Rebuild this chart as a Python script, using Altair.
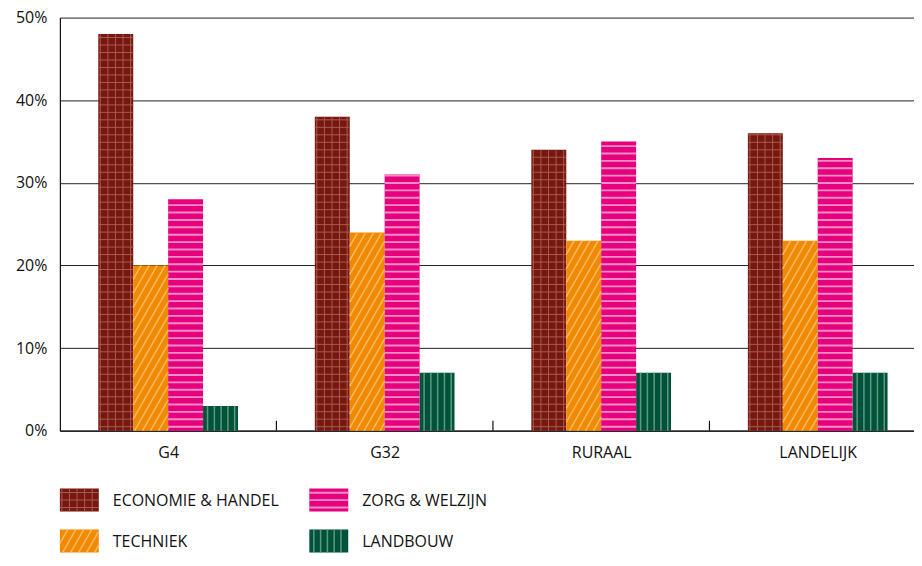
import altair as alt
import pandas as pd
import numpy as np

# ---------------- data ----------------
groups = ["G4", "G32", "RURAAL", "LANDELIJK"]
series = ["ECONOMIE & HANDEL", "TECHNIEK", "ZORG & WELZIJN", "LANDBOUW"]
economie = [48, 38, 34, 36]
techniek = [20, 24, 23, 23]
zorg = [28, 31, 35, 33]
landbouw = [3, 7, 7, 7]
y_ticks = [0, 10, 20, 30, 40, 50]

# ---------------- style ----------------
base_colors = ["#771810", "#f18a00", "#e6007e", "#00533a"]
line_colors = ["#a95a50", "#f8ba66", "#f290c4", "#5c9a80"]
patterns = ["grid", "diag", "hstripe", "vstripe"]
FONT = "Open Sans"
W, H = 856, 414
X_DOM = [-0.5, -0.5 + W / 217.0]
Y_DOM = [0, 50]
BAR_W = 35 / 217.0
SX = W / (X_DOM[1] - X_DOM[0])   # px per x unit
SY = H / (Y_DOM[1] - Y_DOM[0])   # px per y unit


def pattern_segments(kind, x0, x1, y0, y1, sx, sy):
    segs = []
    wpx = (x1 - x0) * sx
    hpx = (y1 - y0) * sy
    if kind == "grid":
        for px in np.arange(2.0, wpx - 0.5, 7.6):
            segs.append((x0 + px / sx, y0, x0 + px / sx, y1, 1.0))
        for py in np.arange(4.0, hpx - 0.5, 7.5):
            segs.append((x0, y0 + py / sy, x1, y0 + py / sy, 1.0))
    elif kind == "hstripe":
        for py in np.arange(4.0, hpx - 1.0, 7.4):
            segs.append((x0, y0 + py / sy, x1, y0 + py / sy, 1.9))
    elif kind == "vstripe":
        for px in np.arange(4.5, wpx - 1.0, 6.8):
            segs.append((x0 + px / sx, y0, x0 + px / sx, y1, 1.5))
    elif kind == "diag":
        slope = 1.75
        for c in np.arange(-hpx / slope, wpx, 8.0):
            xa = max(0.0, c)
            xb = min(wpx, c + hpx / slope)
            if xb <= xa:
                continue
            ya = slope * (xa - c)
            yb = slope * (xb - c)
            segs.append((x0 + xa / sx, y0 + ya / sy, x0 + xb / sx, y0 + yb / sy, 1.5))
    return segs


all_vals = [economie, techniek, zorg, landbouw]
bar_rows, seg_rows = [], []
for si, (s, vals) in enumerate(zip(series, all_vals)):
    for gi, g in enumerate(groups):
        x0 = gi - 2 * BAR_W + si * BAR_W
        x1 = x0 + BAR_W
        bar_rows.append(dict(group=g, series=s, value=vals[gi], x0=x0, x1=x1,
                             zero=0, color=base_colors[si]))
        for (xa, ya, xb, yb, sw) in pattern_segments(patterns[si], x0, x1, 0, vals[gi], SX, SY):
            seg_rows.append(dict(xa=xa, ya=ya, xb=xb, yb=yb, sw=sw, color=line_colors[si]))

bars_df = pd.DataFrame(bar_rows)
segs_df = pd.DataFrame(seg_rows)
bounds_df = pd.DataFrame({"b": [i + 0.5 for i in range(len(groups) - 1)],
                          "y0": 0, "y1": 1.2})

label_expr = "[" + ",".join("'" + g + "'" for g in groups) + "][datum.value]"

xscale = alt.Scale(domain=X_DOM, nice=False, zero=False)
yscale = alt.Scale(domain=Y_DOM, nice=False)
xaxis = alt.Axis(values=list(range(len(groups))), labelExpr=label_expr,
                 ticks=False, grid=False, domainColor="#111", domainWidth=1.3,
                 labelFont=FONT, labelFontSize=16, labelColor="#111",
                 labelPadding=14, labelFlush=False, labelOverlap=False)
yaxis = alt.Axis(values=y_ticks, labelExpr="datum.value + '%'",
                 ticks=False, grid=True, gridColor="#222", gridWidth=1,
                 domainColor="#111", domainWidth=1.2,
                 labelFont=FONT, labelFontSize=16, labelColor="#111",
                 labelPadding=13)

bars = alt.Chart(bars_df).mark_rect().encode(
    x=alt.X("x0:Q", scale=xscale, title=None, axis=xaxis),
    x2="x1:Q",
    y=alt.Y("value:Q", scale=yscale, title=None, axis=yaxis),
    y2="zero:Q",
    fill=alt.Fill("color:N", scale=None),
)

pat = alt.Chart(segs_df).mark_rule().encode(
    x=alt.X("xa:Q", scale=xscale, title=None, axis=xaxis),
    x2="xb:Q",
    y=alt.Y("ya:Q", scale=yscale, title=None, axis=yaxis),
    y2="yb:Q",
    color=alt.Color("color:N", scale=None),
    strokeWidth=alt.StrokeWidth("sw:Q", scale=None),
)

bticks = alt.Chart(bounds_df).mark_rule(color="#111", strokeWidth=1.2).encode(
    x=alt.X("b:Q", scale=xscale, title=None, axis=xaxis),
    y=alt.Y("y0:Q", scale=yscale, title=None, axis=yaxis),
    y2="y1:Q",
)

main = alt.layer(bars, pat, bticks).properties(width=W, height=H)

# ---------------- legend (pixel-unit scales) ----------------
LW, LH = 600, 64
SW_W, SW_H = 39, 23
leg_rows, leg_segs, leg_text = [], [], []
col_pos = {0: (0, 41), 2: (250, 41), 1: (0, 0), 3: (250, 0)}
for si, s in enumerate(series):
    lx, ly = col_pos[si]
    leg_rows.append(dict(x0=lx, x1=lx + SW_W, y0=ly, y1=ly + SW_H, color=base_colors[si]))
    for (xa, ya, xb, yb, sw) in pattern_segments(patterns[si], lx, lx + SW_W, ly, ly + SW_H, 1.0, 1.0):
        leg_segs.append(dict(xa=xa, ya=ya, xb=xb, yb=yb, sw=sw, color=line_colors[si]))
    leg_text.append(dict(x=lx + 53, y=ly + SW_H / 2 - 1, label=s))

lx_scale = alt.Scale(domain=[0, LW], nice=False, zero=False)
ly_scale = alt.Scale(domain=[0, LH], nice=False, zero=False)

leg_rect = alt.Chart(pd.DataFrame(leg_rows)).mark_rect().encode(
    x=alt.X("x0:Q", scale=lx_scale, axis=None), x2="x1:Q",
    y=alt.Y("y0:Q", scale=ly_scale, axis=None), y2="y1:Q",
    fill=alt.Fill("color:N", scale=None),
)
leg_pat = alt.Chart(pd.DataFrame(leg_segs)).mark_rule().encode(
    x=alt.X("xa:Q", scale=lx_scale, axis=None), x2="xb:Q",
    y=alt.Y("ya:Q", scale=ly_scale, axis=None), y2="yb:Q",
    color=alt.Color("color:N", scale=None),
    strokeWidth=alt.StrokeWidth("sw:Q", scale=None),
)
leg_txt = alt.Chart(pd.DataFrame(leg_text)).mark_text(
    align="left", baseline="middle", font=FONT, fontSize=16, color="#111"
).encode(
    x=alt.X("x:Q", scale=lx_scale, axis=None),
    y=alt.Y("y:Q", scale=ly_scale, axis=None),
    text="label:N",
)
legend = alt.layer(leg_rect, leg_pat, leg_txt).properties(width=LW, height=LH)

chart = alt.vconcat(main, legend, spacing=27).properties(
    padding={"left": 7, "top": 1, "right": 0, "bottom": 0}
).configure_view(stroke=None)

chart.save("out.html", embed_options={"renderer": "svg", "actions": False})
